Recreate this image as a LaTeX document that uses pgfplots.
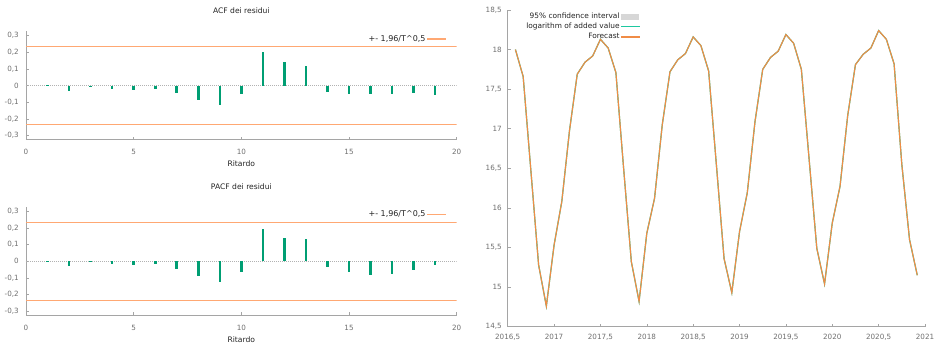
\documentclass[border=0pt]{standalone}
\usepackage{fontspec}
\setmainfont{DejaVu Sans}
\usepackage{pgfplots}
\pgfplotsset{compat=1.18}
\definecolor{bargreen}{RGB}{0,158,115}
\definecolor{confor}{RGB}{255,168,115}
\definecolor{datagreen}{RGB}{30,200,160}
\definecolor{fcor}{RGB}{240,140,70}
\definecolor{axisgray}{RGB}{165,165,165}
\definecolor{labgray}{RGB}{110,110,110}
\definecolor{titlegray}{RGB}{35,35,35}
\definecolor{cigray}{RGB}{215,215,215}
\pgfplotsset{
  lineleg/.style={legend image code/.code={\draw[##1] (0pt,0pt) -- (19pt,0pt);}},
  gstyle/.style={
    scale only axis,
    axis lines=left,
    axis line style={draw=axisgray, line width=0.8pt, -},
    tick style={draw=axisgray, line width=0.6pt},
    tick align=inside, major tick length=3pt,
    ticklabel style={font=\fontsize{7.2}{8}\selectfont, text=labgray},
    /pgf/number format/assume math mode=true,
    /pgf/number format/use comma,
    /pgf/number format/1000 sep={},
    legend cell align=right,
    legend plot pos=right,
  },
  corrstyle/.style={
    gstyle,
    width=430.7pt, height=108.4pt,
    xmin=0, xmax=20, ymin=-0.325, ymax=0.325,
    xtick={0,5,10,15,20},
    ytick={-0.3,-0.2,-0.1,0,0.1,0.2,0.3},
    xticklabel style={yshift=-5.8pt},
    yticklabel style={xshift=-3.7pt},
    title style={at={(0.5,1)}, anchor=center, yshift=14.5pt, font=\fontsize{7.6}{9}\selectfont, text=titlegray},
    xlabel style={at={(0.5,0)}, anchor=center, yshift=-24pt, font=\fontsize{7.6}{9}\selectfont, text=titlegray},
    legend style={draw=none, fill=none, at={(0.9775,0.931)}, anchor=east, inner sep=0pt,
      nodes={inner sep=1.2pt}, font=\fontsize{8}{9}\selectfont, text=titlegray},
  },
}
\pgfplotstableread{
x y
2016.5833 18.00
2016.6667 17.66
2016.7500 16.47
2016.8333 15.28
2016.9167 14.76
2017.0000 15.53
2017.0833 16.08
2017.1667 16.98
2017.2500 17.69
2017.3333 17.84
2017.4167 17.92
2017.5000 18.13
2017.5833 18.02
2017.6667 17.71
2017.7500 16.50
2017.8333 15.32
2017.9167 14.82
2018.0000 15.68
2018.0833 16.12
2018.1667 17.05
2018.2500 17.72
2018.3333 17.87
2018.4167 17.95
2018.5000 18.16
2018.5833 18.05
2018.6667 17.73
2018.7500 16.55
2018.8333 15.36
2018.9167 14.93
2019.0000 15.70
2019.0833 16.19
2019.1667 17.09
2019.2500 17.75
2019.3333 17.90
2019.4167 17.98
2019.5000 18.19
2019.5833 18.08
2019.6667 17.75
2019.7500 16.62
2019.8333 15.49
2019.9167 15.04
2020.0000 15.81
2020.0833 16.27
2020.1667 17.17
2020.2500 17.81
2020.3333 17.94
2020.4167 18.02
2020.5000 18.24
2020.5833 18.13
2020.6667 17.82
2020.7500 16.55
2020.8333 15.60
2020.9167 15.15
}\logdata
\begin{document}
\begin{tikzpicture}
\useasboundingbox (0,0) rectangle (934pt,345pt);
% ACF
\begin{axis}[corrstyle, at={(26pt,205.1pt)}, anchor=south west,
  title={ACF dei residui}, xlabel={Ritardo}]
\addplot[gray!60, line width=0.6pt, dash pattern=on 1pt off 1pt, forget plot] coordinates {(0,0) (20,0)};
\addplot[ycomb, bargreen, line width=2.6pt, forget plot] coordinates {
(1,0.002) (2,-0.03) (3,-0.005) (4,-0.02) (5,-0.026) (6,-0.018) (7,-0.046) (8,-0.086) (9,-0.116) (10,-0.05)
(11,0.20) (12,0.14) (13,0.118) (14,-0.036) (15,-0.048) (16,-0.052) (17,-0.048) (18,-0.042) (19,-0.054)};
\addplot[confor, line width=1.1pt, lineleg] coordinates {(0,0.2326) (20,0.2326)};
\addlegendentry{+- 1,96/T\textasciicircum 0,5}
\addplot[confor, line width=1.1pt, forget plot] coordinates {(0,-0.2326) (20,-0.2326)};
\end{axis}
% PACF
\begin{axis}[corrstyle, at={(26pt,29.5pt)}, anchor=south west,
  title={PACF dei residui}, xlabel={Ritardo}]
\addplot[gray!60, line width=0.6pt, dash pattern=on 1pt off 1pt, forget plot] coordinates {(0,0) (20,0)};
\addplot[ycomb, bargreen, line width=2.6pt, forget plot] coordinates {
(1,0.002) (2,-0.03) (3,-0.006) (4,-0.018) (5,-0.024) (6,-0.018) (7,-0.046) (8,-0.086) (9,-0.122) (10,-0.062)
(11,0.192) (12,0.142) (13,0.136) (14,-0.034) (15,-0.062) (16,-0.08) (17,-0.076) (18,-0.05) (19,-0.02)};
\addplot[confor, line width=1.1pt, lineleg] coordinates {(0,0.2326) (20,0.2326)};
\addlegendentry{+- 1,96/T\textasciicircum 0,5}
\addplot[confor, line width=1.1pt, forget plot] coordinates {(0,-0.2326) (20,-0.2326)};
\end{axis}
% Forecast
\begin{axis}[gstyle, at={(507.7pt,18.3pt)}, anchor=south west,
  width=417.3pt, height=316.7pt,
  xmin=2016.5, xmax=2021, ymin=14.5, ymax=18.5,
  xtick={2016.5,2017,2017.5,2018,2018.5,2019,2019.5,2020,2020.5,2021},
  ytick={14.5,15,15.5,16,16.5,17,17.5,18,18.5},
  xticklabel style={yshift=-4pt},
  yticklabel style={xshift=-2.4pt},
  legend style={draw=none, fill=none, at={(0.3194,0.994)}, anchor=north east, inner sep=0pt,
    row sep=1.2pt, nodes={inner sep=1pt, text height=5.5pt, text depth=1.5pt},
    font=\fontsize{7.4}{8}\selectfont, text=titlegray},
]
\addlegendimage{cigray, area legend, fill=cigray, draw=none}
\addlegendentry{95\% confidence interval}
\addplot[datagreen, line width=1.2pt, lineleg] table {\logdata};
\addlegendentry{logarithm of added value}
\addplot[fcor, line width=1.15pt, lineleg] table {\logdata};
\addlegendentry{Forecast}
\end{axis}
\end{tikzpicture}
\end{document}
